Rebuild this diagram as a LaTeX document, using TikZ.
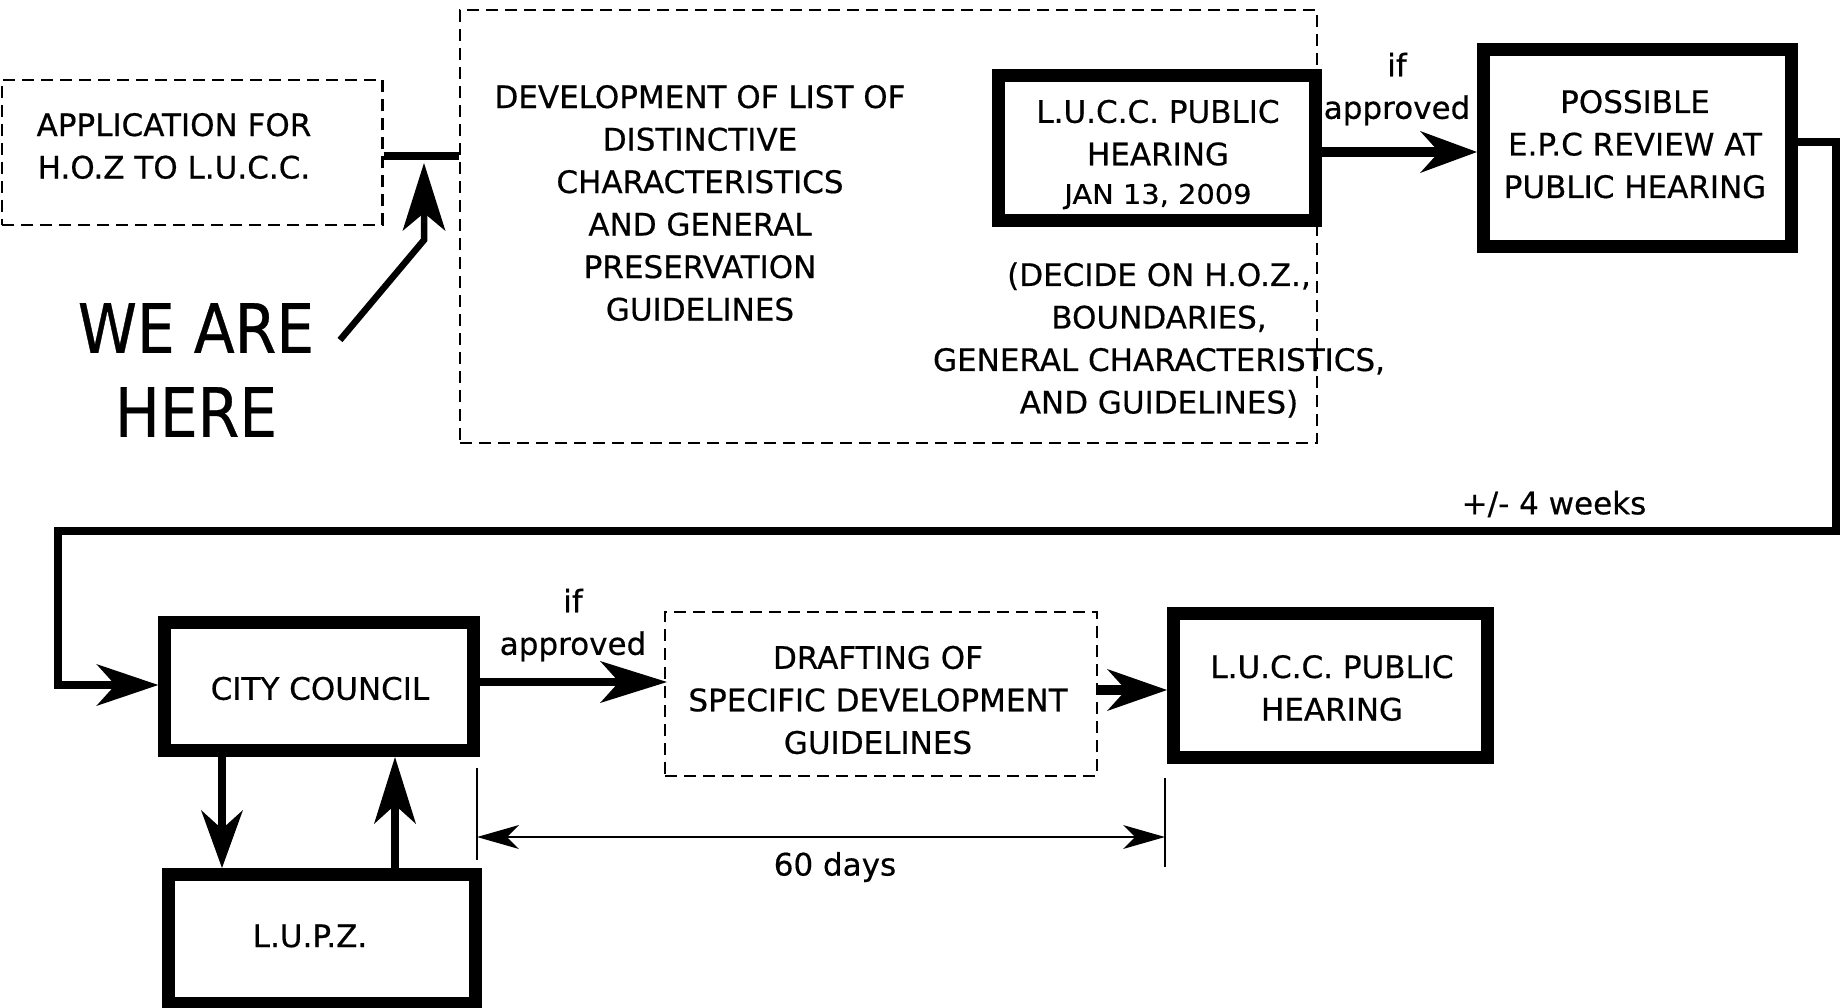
\documentclass[tikz,border=0pt]{standalone}
\usepackage{fontspec}
\setmainfont[FakeBold=0.5]{DejaVu Sans}
\newfontfamily\bigfont[FakeStretch=0.88,FakeBold=0.5]{DejaVu Sans}
\newfontfamily\widefont[FakeStretch=1.07,FakeBold=0.5]{DejaVu Sans}
\usetikzlibrary{arrows.meta}
\begin{document}
\begin{tikzpicture}[x=1pt,y=-1pt,
  txt/.style={font=\fontsize{31}{42.5}\selectfont, align=center, inner sep=0pt},
  thickbox/.style={draw, line width=13pt, inner sep=0pt, align=center, font=\fontsize{31}{42.5}\selectfont},
  dashbox/.style={draw, line width=2.5pt, dash pattern=on 12pt off 7pt, inner sep=0pt, align=center, font=\fontsize{31}{42.5}\selectfont},
  conn/.style={line width=8pt},
  tipto/.style={-{Stealth[length=#1,width=42pt,inset=19pt,line width=0pt]}},
  thintips/.style={{Stealth[length=42pt,width=24pt,inset=12pt,line width=0pt]}-{Stealth[length=42pt,width=24pt,inset=12pt,line width=0pt]}}
]
\path[use as bounding box, fill=white] (0,0) rectangle (1841,1008);

% top row
\node[dashbox, minimum width=380.5pt, minimum height=145pt] (app) at (192,152.5) {};
\node[txt] (apptext) at (174,146) {APPLICATION FOR\\H.O.Z TO L.U.C.C.};
\node[dashbox, line width=2pt, minimum width=857pt, minimum height=433pt] (dev) at (888.5,226.5) {};
\node[txt] (devtext) at (700,203) {DEVELOPMENT OF LIST OF\\DISTINCTIVE\\CHARACTERISTICS\\AND GENERAL\\PRESERVATION\\GUIDELINES};
\node[thickbox, minimum width=316.5pt, minimum height=144.5pt] (lucc1) at (1157,148) {};
\node[txt] (lucc1text) at (1158,154.5) {L.U.C.C. PUBLIC\\HEARING\\[-4pt]{\widefont\fontsize{27}{30}\selectfont JAN 13, 2009}};
\node[txt] (decide) at (1159,340) {(DECIDE ON H.O.Z.,\\BOUNDARIES,\\GENERAL CHARACTERISTICS,\\AND GUIDELINES)};
\node[txt] (if1) at (1397,89) {if\\approved};
\node[thickbox, minimum width=308pt, minimum height=197pt] (possible) at (1637.5,147.7) {};
\node[txt] (possibletext) at (1635,144.2) {POSSIBLE\\E.P.C REVIEW AT\\PUBLIC HEARING};
\node[txt] (weeks) at (1554,504) {+/- 4 weeks};
\node[txt, font=\bigfont\fontsize{68}{84}\selectfont] (here) at (196,370) {WE ARE\\HERE};

% bottom row
\node[thickbox, minimum width=308.5pt, minimum height=128pt] (council) at (319,686.5) {};
\node[txt] (counciltext) at (320,688.5) {CITY COUNCIL};
\node[thickbox, minimum width=307.5pt, minimum height=129pt] (lupz) at (322,939) {};
\node[txt] (lupztext) at (310,936) {L.U.P.Z.};
\node[txt] (if2) at (573,625) {if\\approved};
\node[dashbox, line width=2pt, minimum width=432pt, minimum height=164pt] (draft) at (881,694) {};
\node[txt] (drafttext) at (878,700) {DRAFTING OF\\SPECIFIC DEVELOPMENT\\GUIDELINES};
\node[thickbox, minimum width=314pt, minimum height=144pt] (lucc2) at (1330.5,685.5) {};
\node[txt] (lucc2text) at (1332,688) {L.U.C.C. PUBLIC\\HEARING};
\node[txt] (days) at (835,867) {60 days};

% connectors
\coordinate (a1) at ([yshift=-3.5pt]app.east);
\draw[line width=7.5pt] (a1) -- (a1 -| dev.west);

\coordinate (h0) at (340,340);
\coordinate (h1) at (424,240);
\coordinate (h2) at (424,163);
\draw[line width=6.5pt, -{Stealth[length=68pt,width=43pt,inset=18pt,line width=0pt]}] (h0) -- (h1) -- (h2);

\coordinate (b1) at ([yshift=-4pt]lucc1.east);
\draw[line width=10pt, tipto=57pt] (b1) -- (b1 -| possible.west);

\coordinate (r1) at (1836,142);
\coordinate (r2) at (1836,531);
\coordinate (r3) at (57.5,531);
\coordinate (r4) at (57.5,685);
\draw[conn, tipto=62pt] (possible.east |- r1) -- (r1) -- (r2) -- (r3) -- (r4) -- (council.west |- r4);

\coordinate (c1) at ([yshift=4.5pt]council.east);
\draw[conn, tipto=67pt] (c1) -- ([xshift=3pt]c1 -| draft.west);

\coordinate (d1) at ([yshift=4pt]draft.east);
\draw[line width=10pt, tipto=60pt] (d1) -- (d1 -| lucc2.west);

\coordinate (v1) at (222,800);
\coordinate (v2) at (395,800);
\draw[line width=7.5pt, tipto=58pt] (council.south -| v1) -- (lupz.north -| v1);
\draw[line width=7.5pt, tipto=67pt] (lupz.north -| v2) -- (council.south -| v2);

% 60 days dimension
\coordinate (m1) at (477,768);
\coordinate (m1b) at (477,860);
\coordinate (m2) at (1165,778);
\coordinate (m2b) at (1165,867);
\coordinate (mL) at (477,837);
\coordinate (mR) at (1165,837);
\draw[line width=2pt] (m1) -- (m1b);
\draw[line width=2pt] (m2) -- (m2b);
\draw[line width=2pt, thintips] (mL) -- (mR);
\end{tikzpicture}
\end{document}
